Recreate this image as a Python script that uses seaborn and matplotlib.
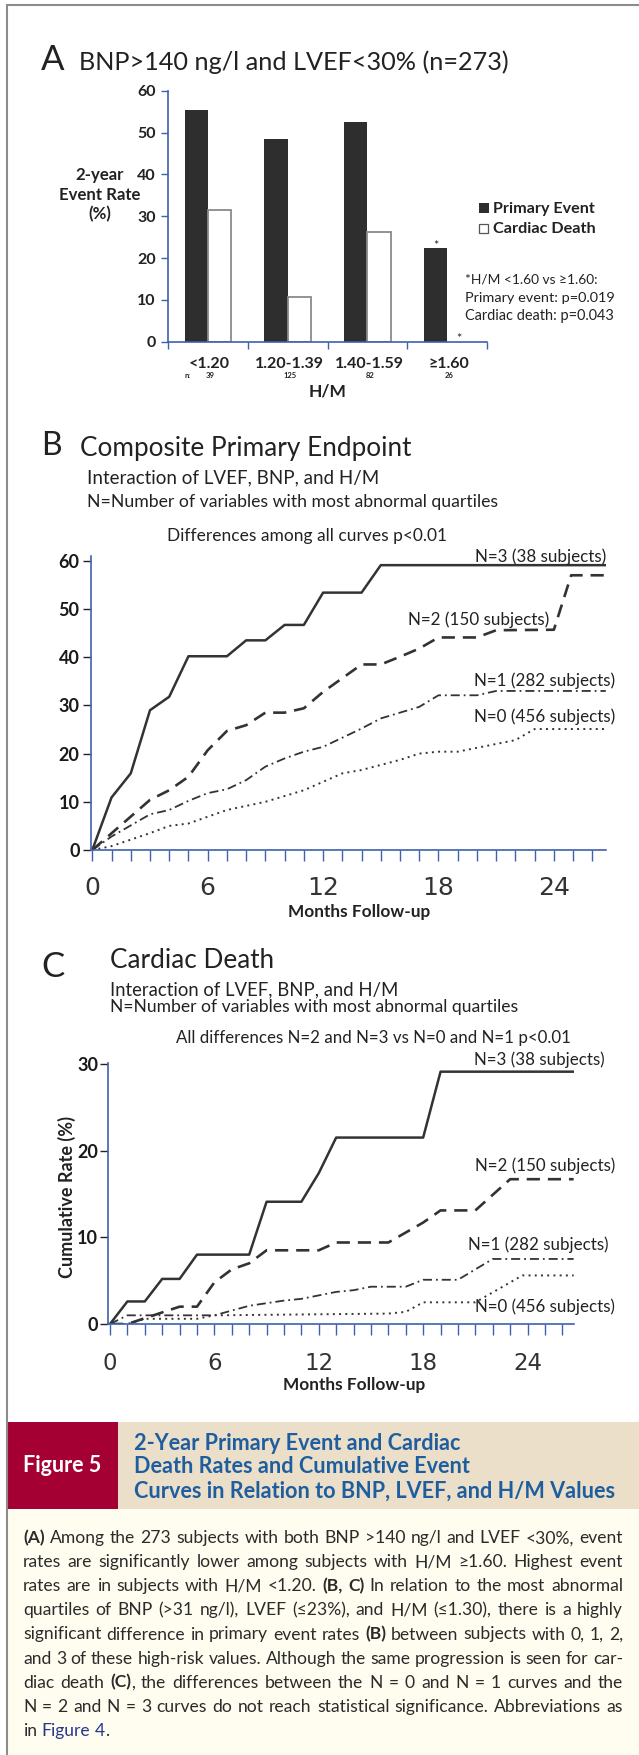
import re
import numpy as np
import pandas as pd
import matplotlib
matplotlib.use("Agg")
import matplotlib.pyplot as plt
from matplotlib.patches import Rectangle
from matplotlib.lines import Line2D
from matplotlib.transforms import offset_copy
import seaborn as sns

# ---------------- data ----------------
hm_categories = ["<1.20", "1.20-1.39", "1.40-1.59", "≥1.60"]
hm_n = [39, 125, 82, 26]
primary_event_rate = [55.4, 48.4, 52.5, 22.3]
cardiac_death_rate = [31.5, 10.6, 26.3, 0.0]

# Panel B: composite primary endpoint (cumulative %, by month)
b_n3_months = [0, 1, 2, 3, 4, 5, 7, 8, 9, 10, 11, 12, 14, 15, 26.7]
b_n3_rate = [0, 10.9, 15.9, 29.0, 31.8, 40.2, 40.2, 43.5, 43.5, 46.7, 46.7, 53.4, 53.4, 59.1, 59.1]
b_n2_months = [0, 3, 4, 5, 6, 7, 8, 9, 10, 11, 12, 14, 15, 16, 17, 18, 20, 21, 24, 24.9, 26.7]
b_n2_rate = [0, 10.4, 12.4, 15.2, 20.7, 24.7, 25.9, 28.5, 28.5, 29.4, 32.8, 38.5, 38.5, 40.1, 41.8,
             44.1, 44.1, 45.6, 45.7, 57.0, 57.0]
b_n1_months = [0, 1, 3, 4, 5, 6, 7, 8, 9, 10, 11, 12, 14, 15, 17, 18, 20, 21, 26.7]
b_n1_rate = [0, 2.8, 7.4, 8.3, 10.2, 11.8, 12.6, 14.5, 17.3, 19.0, 20.4, 21.4, 25.2, 27.3, 29.7,
             32.1, 32.1, 33.0, 33.0]
b_n0_months = [0, 1, 3, 4, 5, 7, 9, 11, 13, 14, 16, 17, 18, 19, 22, 23, 26.7]
b_n0_rate = [0, 0.8, 3.5, 5.0, 5.5, 8.3, 10.0, 12.4, 15.9, 16.6, 18.7, 20.0, 20.4, 20.4, 22.8, 25.1, 25.1]

# Panel C: cardiac death (cumulative %, by month)
c_n3_months = [0, 1, 2, 3, 4, 5, 8, 9, 11, 12, 13, 18, 19, 26.65]
c_n3_rate = [0, 2.6, 2.6, 5.2, 5.2, 8.0, 8.0, 14.1, 14.1, 17.4, 21.5, 21.5, 29.1, 29.1]
c_n2_months = [0, 1, 4, 5, 6, 7, 8, 9, 12, 13, 16, 18, 19, 21, 23, 26.65]
c_n2_rate = [0, 0, 2.0, 2.0, 4.8, 6.3, 7.0, 8.5, 8.5, 9.4, 9.4, 11.7, 13.1, 13.1, 16.7, 16.7]
c_n1_months = [0, 1, 6, 8, 10, 11, 13, 14, 15, 17, 18, 20, 22, 26.65]
c_n1_rate = [0, 1.0, 1.0, 2.1, 2.7, 2.9, 3.7, 3.9, 4.3, 4.3, 5.1, 5.1, 7.5, 7.5]
c_n0_months = [0, 1, 2, 5, 6, 16, 17, 18, 21, 23.7, 26.65]
c_n0_rate = [0, 0, 0.6, 0.6, 1.0, 1.2, 1.4, 2.5, 2.5, 5.6, 5.6]

curve_labels = ["N=3 (38 subjects)", "N=2 (150 subjects)", "N=1 (282 subjects)", "N=0 (456 subjects)"]
month_ticks = [0, 6, 12, 18, 24]
b_yticks = [0, 10, 20, 30, 40, 50, 60]
c_yticks = [0, 10, 20, 30]

# ---------------- style ----------------
sns.set_theme(style="white")
FAM = ["Lato", "DejaVu Sans"]
NUMFAM = ["DejaVu Sans"]
plt.rcParams["font.family"] = FAM
plt.rcParams["axes.unicode_minus"] = False

BLUE = "#3f60ad"
LINE = "#333333"
TXT = "#222222"

W, H = 639, 1755
fig = plt.figure(figsize=(W / 100, H / 100), dpi=100)
fig.patch.set_facecolor("white")
renderer = fig.canvas.get_renderer()


def fx(x):
    return x / W


def fy(y):
    return 1 - y / H


def rect(l, t, r, b):
    return [l / W, 1 - b / H, (r - l) / W, (b - t) / H]


def fit(t, width=None, height=None):
    bb = t.get_window_extent(renderer)
    size = t.get_fontsize()
    if width is not None and bb.width > 0:
        t.set_fontsize(size * width / bb.width)
    elif height is not None and bb.height > 0:
        t.set_fontsize(size * height / bb.height)
    return t.get_fontsize()


def ftext(x, y, s, size, weight="normal", color=TXT, ha="left", va="baseline",
          width=None, family=None, **kw):
    t = fig.text(fx(x), fy(y), s, fontsize=size, fontweight=weight, color=color,
                 ha=ha, va=va, family=family or FAM, **kw)
    if width is not None:
        fit(t, width=width)
    return t


def box(l, t, r, b, color, z=0, ec="none", lw=0):
    fig.add_artist(Rectangle((fx(l), fy(b)), (r - l) / W, (b - t) / H,
                             transform=fig.transFigure, facecolor=color,
                             edgecolor=ec, linewidth=lw, zorder=z))


# ---------------- frame ----------------
fig.add_artist(Line2D([fx(7), fx(7)], [fy(5), fy(1755)], transform=fig.transFigure,
                      color="#8c8c8c", lw=1.5, zorder=5))
fig.add_artist(Line2D([fx(7), fx(639)], [fy(5), fy(5)], transform=fig.transFigure,
                      color="#8c8c8c", lw=1.5, zorder=5))

# ---------------- Panel A ----------------
ftext(41, 70.5, "A", 25)
ftext(79, 70.5, "BNP>140 ng/l and LVEF<30% (n=273)", 17, width=429)

axA = fig.add_axes(rect(168, 90.7, 487, 341.7))
axA.set_facecolor("none")
df_a = pd.DataFrame({
    "hm": hm_categories * 2,
    "rate": primary_event_rate + cardiac_death_rate,
    "event": ["Primary Event"] * 4 + ["Cardiac Death"] * 4,
})
sns.barplot(data=df_a, x="hm", y="rate", hue="event", order=hm_categories,
            hue_order=["Primary Event", "Cardiac Death"],
            palette={"Primary Event": "#2e2e2e", "Cardiac Death": "white"},
            width=0.58, saturation=1, errorbar=None, legend=False, ax=axA)
for p in axA.containers[0]:
    p.set_edgecolor("none")
    p.set_linewidth(0)
for p in axA.containers[1]:
    p.set_edgecolor("#8a8a8a")
    p.set_linewidth(1.3)
    if p.get_height() == 0:
        p.set_linewidth(0)
axA.set_xlim(-0.5, 3.5)
axA.set_ylim(0, 60)
axA.set_xlabel("")
axA.set_ylabel("")
for s in ["top", "right"]:
    axA.spines[s].set_visible(False)
for s in ["left", "bottom"]:
    axA.spines[s].set_color(BLUE)
    axA.spines[s].set_linewidth(1.2)
axA.set_yticks(range(0, 61, 10))
axA.set_yticklabels([str(v) for v in range(0, 61, 10)], fontweight="bold")
axA.tick_params(axis="y", left=True, length=5, width=1, color=BLUE, pad=4,
                labelsize=11.5, labelcolor=TXT)
axA.set_xticks(range(4))
axA.set_xticklabels([])
axA.tick_params(axis="x", which="major", length=0)
axA.set_xticks([-0.5, 0.5, 1.5, 2.5, 3.5], minor=True)
axA.tick_params(axis="x", which="minor", bottom=True, length=5, width=1, color=BLUE,
                direction="out")

tr_cat = offset_copy(axA.get_xaxis_transform(), fig=fig, y=-(368.3 - 341.7), units="dots")
tr_n = offset_copy(axA.get_xaxis_transform(), fig=fig, y=-(378.5 - 341.7), units="dots")
for i, c in enumerate(hm_categories):
    axA.text(i + 0.02, 0, c, transform=tr_cat, ha="center", va="baseline",
             fontsize=11.5, fontweight="bold", color=TXT)
    axA.text(i + 0.03, 0, str(hm_n[i]), transform=tr_n, ha="center", va="baseline",
             fontsize=5.5, fontweight="bold", color=TXT)
axA.text(-0.25, 0, "n:", transform=tr_n, ha="center", va="baseline",
         fontsize=5.5, fontweight="bold", color=TXT)

pb = axA.containers[0][3]
axA.text(pb.get_x() + pb.get_width() / 2, pb.get_height(), "*",
         transform=offset_copy(axA.transData, fig=fig, y=2, units="dots"),
         ha="center", va="center", fontsize=9, color=TXT)
qb = axA.containers[1][3]
axA.text(qb.get_x() + qb.get_width() / 2, qb.get_height(), "*",
         transform=offset_copy(axA.transData, fig=fig, y=3, units="dots"),
         ha="center", va="center", fontsize=9, color=TXT)

ftext(328, 396.7, "H/M", 12.5, weight="bold", ha="center")
t_er = ftext(100, 200, "Event Rate", 11, weight="bold", ha="center", width=81.5)
ylab_size = t_er.get_fontsize()
ftext(100, 180, "2-year", ylab_size, weight="bold", ha="center")
ftext(100, 219, "(%)", ylab_size, weight="bold", ha="center")

box(479, 203, 488.5, 212.5, "#2e2e2e", z=3)
box(478.5, 223.5, 487.5, 232.5, "white", z=3, ec="#555555", lw=0.9)
ftext(493, 212.5, "Primary Event", 10.5, weight="bold", width=102)
ftext(493, 233.3, "Cardiac Death", 10.5, weight="bold", width=102.7)

ftext(465, 284, "*H/M <1.60 vs ≥1.60:", 10, width=132)
ftext(465, 301.7, "Primary event: p=0.019", 10, width=149.5)
ftext(465, 320, "Cardiac death: p=0.043", 10, width=149.5)


# ---------------- KM panels ----------------
def finish_km(ax, xlim, ylim, yticks, ylab_size, month_size, month_off, ytick_pad):
    ax.set_xlim(*xlim)
    ax.set_ylim(*ylim)
    ax.set_xlabel("")
    ax.set_ylabel("")
    for s in ["top", "right"]:
        ax.spines[s].set_visible(False)
    for s in ["left", "bottom"]:
        ax.spines[s].set_color(BLUE)
        ax.spines[s].set_linewidth(1.2)
    ax.set_xticks(np.arange(0, 27, 1))
    ax.set_xticklabels([])
    ax.tick_params(axis="x", bottom=True, length=8, width=1, color=BLUE, direction="out")
    ax.set_yticks(yticks)
    ax.set_yticklabels([str(v) for v in yticks], fontweight="bold")
    ax.tick_params(axis="y", left=True, length=6, width=1, color="#222222", pad=ytick_pad,
                   labelsize=ylab_size, labelcolor="#1a1a1a")
    tr = offset_copy(ax.get_xaxis_transform(), fig=fig, y=-month_off, units="dots")
    for m in month_ticks:
        ax.text(m, 0, str(m), transform=tr, ha="center", va="baseline",
                fontsize=month_size, color="#333333", family=NUMFAM)


STYLES = [
    dict(ls="-", lw=1.8),
    dict(ls=(0, (5, 3)), lw=1.9),
    dict(ls=(0, (5, 2.2, 1, 2.2)), lw=1.3),
    dict(ls=(0, (1, 2.2)), lw=1.4),
]


def draw_curves(ax, series):
    for (months, vals), st in zip(series, STYLES):
        sns.lineplot(x=months, y=vals, ax=ax, color=LINE, linewidth=st["lw"],
                     linestyle=st["ls"], errorbar=None, sort=False)


def draw_curve_labels(ax, positions, ref_width):
    t0 = ax.text(positions[0][0], positions[0][1], curve_labels[0], ha="center",
                 va="baseline", fontsize=11, color=TXT)
    size = fit(t0, width=ref_width)
    for lab, (x, y) in zip(curve_labels[1:], positions[1:]):
        ax.text(x, y, lab, ha="center", va="baseline", fontsize=size, color=TXT)


# Panel B
ftext(41, 455, "B", 23)
ftext(80, 456, "Composite Primary Endpoint", 18, width=329.5)
ftext(87, 483.3, "Interaction of LVEF, BNP, and H/M", 13, width=290)
ftext(87, 507.3, "N=Number of variables with most abnormal quartiles", 11.5, width=410)
ftext(167, 540.7, "Differences among all curves p<0.01", 11, width=280)

axB = fig.add_axes(rect(90.7, 556, 606, 850))
axB.set_facecolor("none")
draw_curves(axB, [(b_n3_months, b_n3_rate), (b_n2_months, b_n2_rate),
                  (b_n1_months, b_n1_rate), (b_n0_months, b_n0_rate)])
finish_km(axB, (-0.083, 26.71), (0, 61), b_yticks, 13, 18, 45, 2)
draw_curve_labels(axB, [(23.3, 59.8), (20.1, 46.7), (23.5, 34.1), (23.5, 26.6)], 131)
ftext(359, 917, "Months Follow-up", 11.5, weight="bold", ha="center", width=141)

# Panel C
ftext(41, 976.7, "C", 25)
ftext(110, 968.3, "Cardiac Death", 18, width=163)
ftext(110, 995, "Interaction of LVEF, BNP, and H/M", 13, width=287)
ftext(110, 1011.7, "N=Number of variables with most abnormal quartiles", 11.5, width=407.5)
ftext(176, 1042.7, "All differences N=2 and N=3 vs N=0 and N=1 p<0.01", 11, width=394.5)

axC = fig.add_axes(rect(108, 1063, 574, 1324))
axC.set_facecolor("none")
draw_curves(axC, [(c_n3_months, c_n3_rate), (c_n2_months, c_n2_rate),
                  (c_n1_months, c_n1_rate), (c_n0_months, c_n0_rate)])
finish_km(axC, (-0.115, 26.67), (0, 30.1), c_yticks, 13, 16.5, 46, 1)
draw_curve_labels(axC, [(24.7, 29.9), (25.0, 17.6), (24.6, 8.5), (25.0, 1.4)], 130)
ftext(354, 1390, "Months Follow-up", 11.5, weight="bold", ha="center", width=141)
t_cum = ftext(67, 1196.7, "Cumulative Rate (%)", 11, weight="bold", ha="center",
              va="center", rotation=90)
fit(t_cum, height=162)

# ---------------- caption ----------------
box(7, 1421.7, 118, 1509, "#a50034")
box(118, 1421.7, 639, 1509, "#ebdfc9")
box(7, 1509, 639, 1755, "#fffdf0")
ftext(23, 1472.3, "Figure 5", 14, weight="bold", color="white", width=79)

title_lines = ["2-Year Primary Event and Cardiac",
               "Death Rates and Cumulative Event",
               "Curves in Relation to BNP, LVEF, and H/M Values"]
tt = ftext(134.5, 1497.7, title_lines[2], 14, weight="bold", color="#1f5e9e", width=483)
tsize = tt.get_fontsize()
ftext(134.5, 1450, title_lines[0], tsize, weight="bold", color="#1f5e9e")
ftext(134.5, 1473.3, title_lines[1], tsize, weight="bold", color="#1f5e9e")

body_lines = [
    "**(A)** Among the 273 subjects with both BNP >140 ng/l and LVEF <30%, event",
    "rates are significantly lower among subjects with H/M ≥1.60. Highest event",
    "rates are in subjects with H/M <1.20. **(B,** **C)** In relation to the most abnormal",
    "quartiles of BNP (>31 ng/l), LVEF (≤23%), and H/M (≤1.30), there is a highly",
    "significant difference in primary event rates **(B)** between subjects with 0, 1, 2,",
    "and 3 of these high-risk values. Although the same progression is seen for car-",
    "diac death **(C)**, the differences between the N = 0 and N = 1 curves and the",
    "N = 2 and N = 3 curves do not reach statistical significance. Abbreviations as",
    "in [[Figure]] [[4]].",
]
BODY = "#2b2b2b"
LINK = "#27388c"


def parse(line):
    words = []
    for w in line.split(" "):
        pieces = []
        for part in re.split(r"(\*\*.+?\*\*|\[\[.+?\]\])", w):
            if not part:
                continue
            if part.startswith("**"):
                pieces.append((part[2:-2], "bold", BODY))
            elif part.startswith("[["):
                pieces.append((part[2:-2], "normal", LINK))
            else:
                pieces.append((part, "normal", BODY))
        words.append(pieces)
    return words


def measure(s, size, weight):
    t = fig.text(0, 0, s, fontsize=size, fontweight=weight, family=FAM)
    w = t.get_window_extent(renderer).width
    t.remove()
    return w


def natural_width(words, size):
    sp = measure("a a", size, "normal") - measure("aa", size, "normal")
    tot = sum(measure(p[0], size, p[1]) for wd in words for p in wd)
    return tot + sp * (len(words) - 1)


parsed = [parse(l) for l in body_lines]
x0, x1 = 23, 623
s0 = 12
nat = max(natural_width(wds, s0) for wds in parsed[:-1])
bsize = s0 * (x1 - x0) / nat * 0.995
space = measure("a a", bsize, "normal") - measure("aa", bsize, "normal")
for i, wds in enumerate(parsed):
    yb = 1543.3 + 24.05 * i
    widths = [[measure(p[0], bsize, p[1]) for p in wd] for wd in wds]
    wsum = sum(sum(w) for w in widths)
    if i < len(parsed) - 1 and len(wds) > 1:
        gap = ((x1 - x0) - wsum) / (len(wds) - 1)
    else:
        gap = space
    x = x0
    for wd, ws in zip(wds, widths):
        for (s, wt, col), w in zip(wd, ws):
            fig.text(fx(x), fy(yb), s, fontsize=bsize, fontweight=wt, color=col,
                     ha="left", va="baseline", family=FAM)
            x += w
        x += gap

fig.savefig("out.png", dpi=100, facecolor="white")
